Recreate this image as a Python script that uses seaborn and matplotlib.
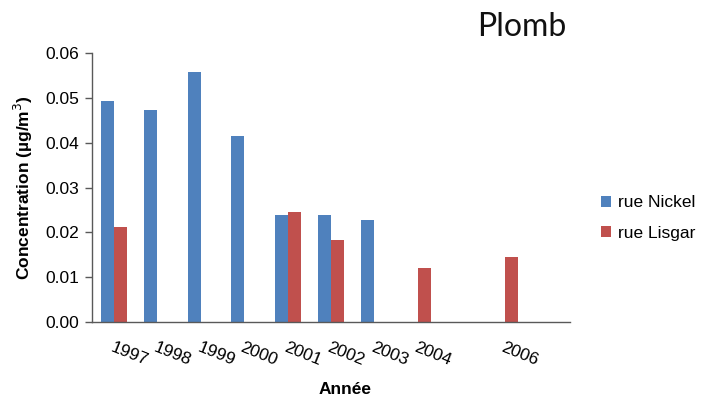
import numpy as np
import pandas as pd
import matplotlib
matplotlib.use("Agg")
import matplotlib.pyplot as plt
import matplotlib.transforms as mtrans
import seaborn as sns

years = ["1997", "1998", "1999", "2000", "2001", "2002", "2003", "2004", "2005", "2006", "2007"]
tick_labels = ["1997", "1998", "1999", "2000", "2001", "2002", "2003", "2004", "", "2006", ""]
nickel = [0.0492, 0.0472, 0.0557, 0.0414, 0.0238, 0.0238, 0.0227, np.nan, np.nan, np.nan, np.nan]
lisgar = [0.0213, np.nan, np.nan, np.nan, 0.0245, 0.0182, np.nan, 0.0120, np.nan, 0.0144, np.nan]
series = ["rue Nickel", "rue Lisgar"]
colors = ["#4F81BD", "#C0504D"]

df = pd.DataFrame({
    "Année": years * 2,
    "site": [series[0]] * len(years) + [series[1]] * len(years),
    "value": nickel + lisgar,
})

sns.set_style("white")
plt.rcParams["font.family"] = ["Liberation Sans", "DejaVu Sans"]
plt.rcParams["text.color"] = "black"
plt.rcParams["xtick.color"] = "black"
plt.rcParams["ytick.color"] = "black"
plt.rcParams["axes.labelcolor"] = "black"

fig = plt.figure(figsize=(7.13, 4.0), dpi=100)
ax = fig.add_axes([92 / 713, 78 / 400, (570 - 92) / 713, (322 - 53) / 400])

sns.barplot(data=df, x="Année", y="value", hue="site", order=years, hue_order=series,
            palette=colors, width=0.6, saturation=1, errorbar=None, linewidth=0, ax=ax)

ax.set_xlim(-0.5, len(years) - 0.5)
ax.set_ylim(0, 0.06)
ax.set_yticks(np.arange(0, 0.061, 0.01))
ax.set_yticklabels([f"{v:.2f}" for v in np.arange(0, 0.061, 0.01)], fontsize=12.5)

ax.set_xticks(range(len(years)))
ax.set_xticklabels(tick_labels, rotation=-22, ha="left", va="top",
                   rotation_mode="anchor", fontsize=12.5)
offset = mtrans.ScaledTranslation(0.09, 0, fig.dpi_scale_trans)
for lbl in ax.get_xticklabels():
    lbl.set_transform(lbl.get_transform() + offset)

ax.tick_params(axis="x", length=0, pad=13)
ax.tick_params(axis="y", length=5, width=1, color="#595959", direction="out", pad=4, left=True)

for s in ["top", "right"]:
    ax.spines[s].set_visible(False)
for s in ["left", "bottom"]:
    ax.spines[s].set_color("#595959")
    ax.spines[s].set_linewidth(1)

ax.set_xlabel("")
ax.set_ylabel("Concentration (µg/m$^3$)", fontsize=12.5, fontweight="bold", labelpad=8)
fig.text(345 / 713, 1 - 390 / 400, "Année", ha="center", va="center",
         fontsize=12.5, fontweight="bold")

fig.text(566 / 713, 1 - 27 / 400, "Plomb", ha="right", va="center", fontsize=23,
         family=["Lato", "Liberation Sans"], fontweight="normal", color="#111111")

handles, labels = ax.get_legend_handles_labels()
ax.legend(handles, labels, loc="center left", bbox_to_anchor=(585 / 713, 1 - 218 / 400),
          bbox_transform=fig.transFigure, frameon=False, fontsize=12.5,
          handlelength=0.6, handleheight=0.6, handletextpad=0.4, labelspacing=0.9)

fig.savefig("out.png", dpi=100)
